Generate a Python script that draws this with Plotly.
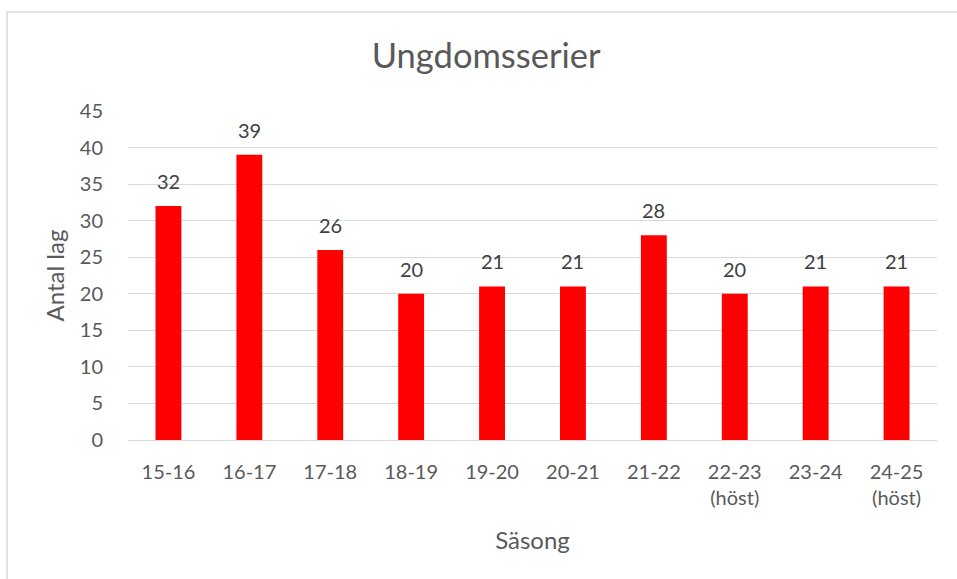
import plotly.graph_objects as go

seasons = ["15-16", "16-17", "17-18", "18-19", "19-20", "20-21", "21-22", "22-23<br>(höst)", "23-24", "24-25<br>(höst)"]
teams = [32, 39, 26, 20, 21, 21, 28, 20, 21, 21]
y_ticks = [0, 5, 10, 15, 20, 25, 30, 35, 40, 45]

FONT = "Lato"
GREY = "#595959"

fig = go.Figure()
fig.add_trace(go.Bar(x=seasons, y=teams, marker=dict(color="#FF0000", line=dict(width=0)),
                     hoverinfo="x+y"))

for s, v in zip(seasons, teams):
    fig.add_annotation(x=s, y=v, text=str(v), showarrow=False, yanchor="bottom",
                       yshift=11, font=dict(family=FONT, size=20, color="#404040"))

fig.update_layout(
    width=957, height=579,
    margin=dict(l=128, r=20, t=111, b=139),
    paper_bgcolor="white", plot_bgcolor="white",
    bargap=0.68,
    showlegend=False,
    title=dict(text="Ungdomsserier", x=0.508, xanchor="center", y=0.903, yanchor="middle",
               font=dict(family=FONT, size=34.5, color=GREY)),
    font=dict(family=FONT, color=GREY),
    xaxis=dict(
        title=dict(text="Säsong", font=dict(family=FONT, size=24, color=GREY), standoff=24),
        tickfont=dict(family=FONT, size=20, color=GREY),
        showline=True, linecolor="#d9d9d9", linewidth=1,
        ticks="outside", ticklen=14, tickcolor="rgba(0,0,0,0)",
        showgrid=False,
    ),
    yaxis=dict(
        title=dict(text="Antal lag", font=dict(family=FONT, size=24, color=GREY), standoff=8),
        range=[0, 45], tickvals=y_ticks,
        tickfont=dict(family=FONT, size=20, color=GREY),
        showgrid=True, gridcolor="#d9d9d9", gridwidth=1,
        zeroline=True, zerolinecolor="#d9d9d9", zerolinewidth=1,
        ticks="outside", ticklen=20, tickcolor="rgba(0,0,0,0)",
        showline=False,
    ),
    shapes=[dict(type="rect", xref="paper", yref="paper",
                 x0=(7 - 128) / 809, x1=2, y0=-2, y1=(440 - 12) / 329,
                 line=dict(color="#d9d9d9", width=1.5), fillcolor="rgba(0,0,0,0)", layer="below")],
)

fig.write_html("out.html", config={"displayModeBar": False},
               post_script="document.body.style.margin='0';")
